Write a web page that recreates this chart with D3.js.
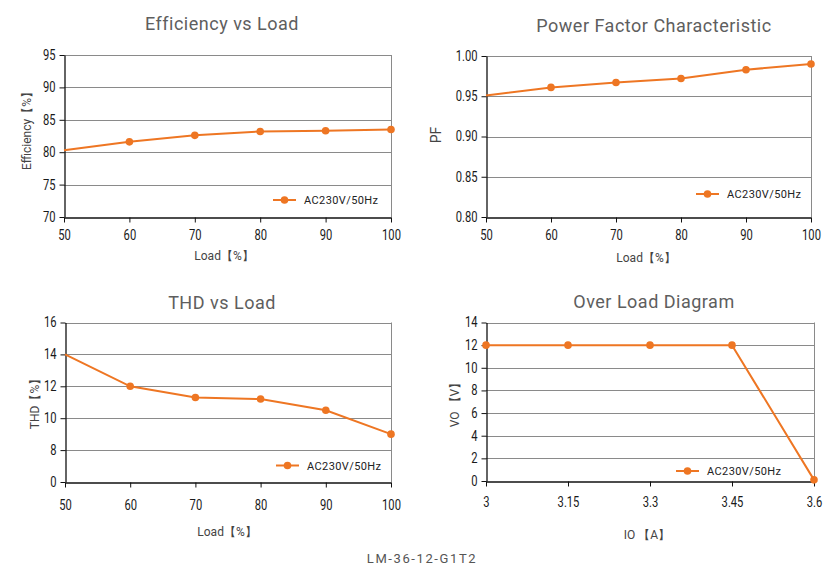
<!DOCTYPE html>
<html><head><meta charset="utf-8">
<script src="https://cdn.jsdelivr.net/npm/d3@7"></script>
<style>
html,body{margin:0;padding:0;background:#fff;}
svg{display:block;}
</style></head>
<body>
<svg id="c" width="836" height="579"></svg>
<script>
// ---- data ----
const loadPct = [50, 60, 70, 80, 90, 100];
const efficiency = [80.3, 81.6, 82.6, 83.2, 83.3, 83.5];
const powerFactor = [0.951, 0.961, 0.967, 0.972, 0.983, 0.990];
const thd = [14, 12, 11.3, 11.2, 10.5, 9];
const ioA = [3, 3.15, 3.3, 3.45, 3.6];
const vo = [12, 12, 12, 12, 0.1];

const effTicks = [70, 75, 80, 85, 90, 95];
const pfTicks = [0.80, 0.85, 0.90, 0.95, 1.00];
const thdTicks = [0, 8, 10, 12, 14, 16];
const voTicks = [0, 2, 4, 6, 8, 10, 12, 14];
const loadTicks = [50, 60, 70, 80, 90, 100];
const ioTicks = [3, 3.15, 3.3, 3.45, 3.6];
const seriesName = "AC230V/50Hz";
const footer = "LM-36-12-G1T2";

const ORANGE = "#ee7623";
const svg = d3.select("#c");
const labelFont = "'Roboto','Noto Sans','DejaVu Sans',sans-serif";
const SX = 0.8; // horizontal squeeze for narrow tick digits

const panels = [
  { title: "Efficiency vs Load", titleX: 222, titleY: 30,
    x0: 64, x1: 391, y0: 217, y1: 55,
    xs: loadPct, ys: efficiency, xTicks: loadTicks, yTicks: effTicks,
    xFmt: d => d, yFmt: d => d,
    xLabel: "Load【%】", xLabelX: 224, xLabelY: 260,
    yLabel: "Efficiency【%】", yLabelX: 27, yLabelY: 128,
    xTickTop: 13, skipFirst: true,
    legX: 273, legY: 200 },
  { title: "Power Factor Characteristic", titleX: 654, titleY: 32,
    x0: 486, x1: 811, y0: 217, y1: 56,
    xs: loadPct, ys: powerFactor, xTicks: loadTicks, yTicks: pfTicks,
    xFmt: d => d, yFmt: d3.format(".2f"),
    xLabel: "Load【%】", xLabelX: 646, xLabelY: 262,
    yLabel: "PF", yLabelX: 436, yLabelY: 135,
    xTickTop: 13, skipFirst: true,
    legX: 696, legY: 194 },
  { title: "THD vs Load", titleX: 222, titleY: 309,
    x0: 65, x1: 391, y0: 482, y1: 322.5,
    xs: loadPct, ys: thd, xTicks: loadTicks, yTicks: thdTicks, poly: true,
    xFmt: d => d, yFmt: d => d,
    xLabel: "Load【%】", xLabelX: 227, xLabelY: 536,
    yLabel: "THD【%】", yLabelX: 35, yLabelY: 401,
    xTickTop: 18, skipFirst: true,
    legX: 276, legY: 465.5 },
  { title: "Over Load Diagram", titleX: 654, titleY: 308,
    x0: 486, x1: 814, y0: 481, y1: 322.5,
    xs: ioA, ys: vo, xTicks: ioTicks, yTicks: voTicks,
    xFmt: d => d, yFmt: d => d,
    xLabel: "IO 【A】", xLabelX: 647, xLabelY: 539,
    yLabel: "VO 【V】", yLabelX: 455, yLabelY: 402,
    xTickTop: 16, skipFirst: false,
    legX: 676, legY: 471 }
];

panels.forEach(p => {
  const g = svg.append("g");
  const x = d3.scaleLinear().domain(d3.extent(p.xTicks)).range([p.x0, p.x1]);
  let y;
  if (p.poly) {
    const n = p.yTicks.length;
    y = d3.scaleLinear().domain(p.yTicks)
      .range(p.yTicks.map((d, i) => p.y0 + (p.y1 - p.y0) * i / (n - 1)));
  } else {
    y = d3.scaleLinear().domain(d3.extent(p.yTicks)).range([p.y0, p.y1]);
  }

  // gridlines (excluding bottom)
  g.selectAll(".grid").data(p.yTicks.slice(1)).join("line")
    .attr("x1", p.x0).attr("x2", p.x1)
    .attr("y1", d => Math.round(y(d)) + 0.5).attr("y2", d => Math.round(y(d)) + 0.5)
    .attr("stroke", "#8a8a8a").attr("stroke-width", 1);
  // right border
  g.append("line").attr("x1", p.x1 + 0.5).attr("x2", p.x1 + 0.5)
    .attr("y1", p.y1).attr("y2", p.y0)
    .attr("stroke", "#8a8a8a").attr("stroke-width", 1);

  // axes
  const xAxis = d3.axisBottom(x).tickValues(p.xTicks).tickFormat(p.xFmt).tickSize(5).tickSizeOuter(0);
  const yAxis = d3.axisLeft(y).tickValues(p.yTicks).tickFormat(p.yFmt).tickSize(5).tickSizeOuter(0);
  const gx = g.append("g").attr("transform", `translate(0,${Math.round(p.y0) + 0.5})`).call(xAxis);
  const gy = g.append("g").attr("transform", `translate(${Math.round(p.x0) + 0.5},0)`).call(yAxis);
  [gx, gy].forEach(a => {
    a.select(".domain").attr("stroke", "#111").attr("stroke-width", 1.3);
    a.selectAll(".tick line").attr("stroke", "#111");
    a.selectAll("text").attr("fill", "#1a1a1a")
      .style("font-family", labelFont).style("font-size", "14px");
  });
  gx.selectAll(".tick text").attr("y", p.xTickTop).attr("dy", "0.71em")
    .attr("transform", `scale(${SX},1)`);
  gy.selectAll(".tick text").attr("x", -9 / SX).attr("transform", `scale(${SX},1)`);

  // line
  const line = d3.line().x(d => x(d[0])).y(d => y(d[1]));
  const pts = p.xs.map((v, i) => [v, p.ys[i]]);
  g.append("path").datum(pts).attr("d", line)
    .attr("fill", "none").attr("stroke", ORANGE).attr("stroke-width", 2);
  g.selectAll(".dot").data(p.skipFirst ? pts.slice(1) : pts).join("circle")
    .attr("cx", d => x(d[0])).attr("cy", d => y(d[1])).attr("r", 3.8)
    .attr("fill", ORANGE);

  // legend
  g.append("line").attr("x1", p.legX).attr("x2", p.legX + 23)
    .attr("y1", p.legY).attr("y2", p.legY)
    .attr("stroke", ORANGE).attr("stroke-width", 2);
  g.append("circle").attr("cx", p.legX + 11.5).attr("cy", p.legY).attr("r", 3.8).attr("fill", ORANGE);
  g.append("text").attr("x", p.legX + 31).attr("y", p.legY + 4)
    .text(seriesName).attr("fill", "#222")
    .style("font-family", labelFont).style("font-size", "11px").style("letter-spacing", "0.4px");

  // title
  g.append("text").attr("x", p.titleX).attr("y", p.titleY).attr("text-anchor", "middle")
    .text(p.title).attr("fill", "#5e5e5e")
    .style("font-family", labelFont).style("font-size", "18px").style("letter-spacing", "0.5px");
  // x label
  g.append("text").attr("x", p.xLabelX).attr("y", p.xLabelY).attr("text-anchor", "middle")
    .text(p.xLabel).attr("fill", "#444")
    .style("font-family", labelFont).style("font-size", "12px");
  // y label
  g.append("text").attr("transform", `translate(${p.yLabelX},${p.yLabelY}) rotate(-90)`)
    .attr("text-anchor", "middle").attr("dy", "0.35em")
    .text(p.yLabel).attr("fill", "#444")
    .style("font-family", labelFont).style("font-size", p.yLabel === "PF" ? "14px" : "12px");
});

svg.append("text").attr("x", 422).attr("y", 563).attr("text-anchor", "middle")
  .text(footer).attr("fill", "#555")
  .style("font-family", labelFont).style("font-size", "13px").style("letter-spacing", "1.6px");
</script>
</body></html>
